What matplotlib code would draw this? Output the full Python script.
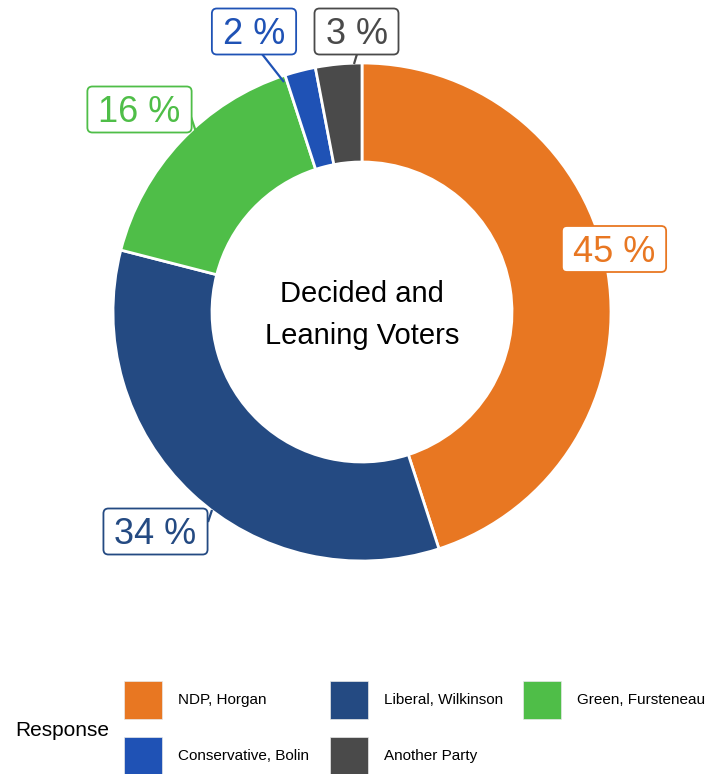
import matplotlib
matplotlib.use("Agg")
import matplotlib.pyplot as plt
from matplotlib.patches import FancyBboxPatch, Rectangle
from matplotlib.transforms import IdentityTransform
import numpy as np

plt.rcParams['font.family'] = ['Liberation Sans', 'DejaVu Sans']

# ---- data ----
categories = ["NDP, Horgan", "Liberal, Wilkinson", "Green, Fursteneau",
              "Conservative, Bolin", "Another Party"]
values = [45, 34, 16, 2, 3]
colors = ["#E87722", "#244A82", "#4FBE48", "#1F52B5", "#4A4A4A"]
center_label = ["Decided and", "Leaning Voters"]
legend_title = "Response"

# ---- layout (pixel coords, y measured from top) ----
W, H = 710, 774
cx, cy = 362, 312
R_out, R_in = 249, 150
label_pos = [(614, 249), (155.5, 531.5), (139.5, 109.5), (254, 31.5), (356.5, 31.5)]
leader = [None, ((208, 522), (212, 510)), ((191, 117), (196, 132)),
          ((262, 54), (284, 82)), ((357, 54), (354, 64))]

fig = plt.figure(figsize=(W / 100, H / 100), dpi=100)
ax = fig.add_axes([0, 0, 1, 1])

def Y(y):
    return H - y

wedges, _ = ax.pie(values, colors=colors, startangle=90, counterclock=False,
                   radius=R_out, center=(cx, Y(cy)),
                   wedgeprops=dict(width=R_out - R_in, edgecolor="white", linewidth=2))
ax.set_xlim(0, W)
ax.set_ylim(0, H)
ax.set_aspect("equal")
ax.axis("off")

# centre text
ax.text(cx, Y(302), center_label[0], ha="center", va="baseline", fontsize=21, color="black")
ax.text(cx, Y(344), center_label[1], ha="center", va="baseline", fontsize=21, color="black")

# leader lines
for seg, c in zip(leader, colors):
    if seg is None:
        continue
    (x0, y0), (x1, y1) = seg
    ax.plot([x0, x1], [Y(y0), Y(y1)], color=c, lw=1.6, zorder=3, solid_capstyle="butt")

# percentage labels
texts = []
for v, c, (lx, ly) in zip(values, colors, label_pos):
    t = ax.text(lx, Y(ly + 13), f"{v} %", ha="center", va="baseline",
                fontsize=26, color=c, zorder=6)
    texts.append((t, c, lx, ly))

fig.canvas.draw()
for t, c, lx, ly in texts:
    bb = t.get_window_extent()
    bw = bb.width + 22
    bh = 46
    x0 = lx - bw / 2
    y0 = H - ly - bh / 2
    p = FancyBboxPatch((x0, y0), bw, bh, boxstyle="round,pad=0,rounding_size=5",
                       fc="white", ec=c, lw=1.3, transform=IdentityTransform(), zorder=5)
    fig.patches.append(p)
    # keep text above box
    t.set_zorder(6)

# bring texts to front by re-adding on figure level
for t, c, lx, ly in texts:
    t.remove()
    fig.text(lx / W, (H - ly - 13) / H, t.get_text(), ha="center", va="baseline",
             fontsize=26, color=c, zorder=7)

# legend (manual)
ax.text(15, Y(731), legend_title, ha="left", va="center", fontsize=15, color="black")
key_x = [124, 330, 523, 124, 330]
key_y = [700, 700, 700, 756, 756]
for name, c, kx, ky in zip(categories, colors, key_x, key_y):
    ax.add_patch(Rectangle((kx, Y(ky) - 19), 38, 38, fc=c, ec="#e8e8e8", lw=0.5, zorder=4))
    ax.text(kx + 54, Y(ky), name, ha="left", va="center", fontsize=11, color="black")

fig.savefig("out.png", dpi=100)
